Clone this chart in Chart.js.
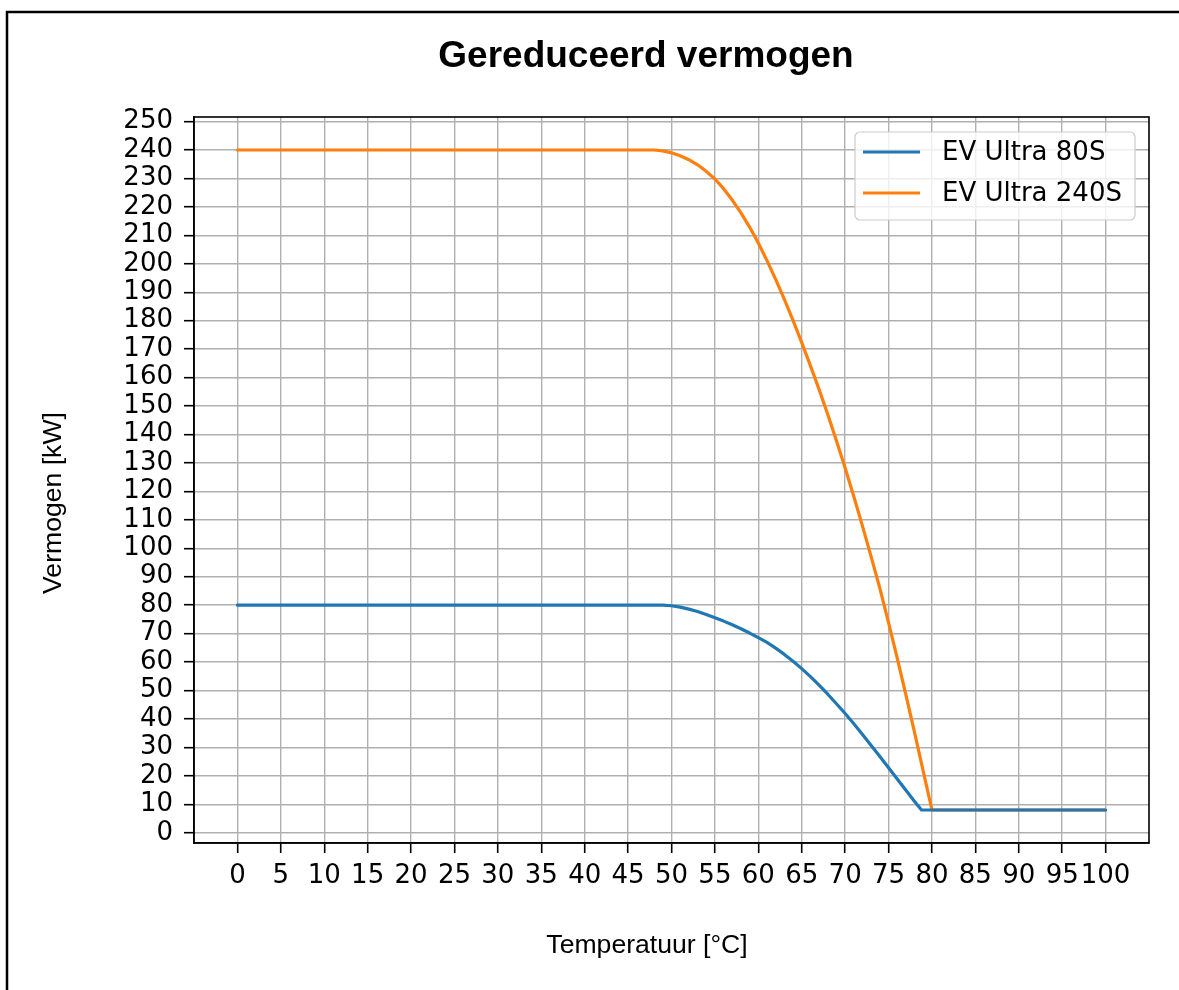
<!DOCTYPE html>
<html lang="nl">
<head>
    <meta charset="UTF-8">
    <title>Gereduceerd vermogen</title>
    <script src="https://cdn.jsdelivr.net/npm/chart.js"></script>
    <style>
        body { margin: 0; background: #fff; }
        #wrap { width: 1179px; height: 990px; position: relative; }
    </style>
</head>
<body>
    <div id="wrap"><canvas id="deratingChart"></canvas></div>

    <script>
        // Temperature (°C) / power (kW)
        const temp80 = [0, 49, 50, 51, 52, 53, 54, 55, 56, 57, 58, 59, 60, 61, 62, 63, 64, 65, 66, 67, 68, 69, 70,
                        71, 72, 73, 74, 75, 76, 77, 78, 78.8, 100];
        const power80 = [80, 80, 79.8, 79.3, 78.6, 77.75, 76.75, 75.6, 74.4, 73.1, 71.7, 70.2, 68.6, 66.9, 64.9, 62.7,
                         60.3, 57.7, 54.9, 51.9, 48.7, 45.35, 41.9, 38.3, 34.55, 30.7, 26.8, 22.85, 18.9, 14.95, 11.0, 8, 8];

        const temp240 = [0, 47, 48, 49, 50, 51, 52, 53, 54, 55, 56, 57, 58, 59, 60, 61, 62, 63, 64, 65, 66, 67, 68, 69, 70,
                         71, 72, 73, 74, 75, 76, 77, 78, 79, 80, 100];
        const power240 = [240, 240, 240, 239.7, 239.0, 238.0, 236.6, 234.8, 232.5, 229.8, 226.4, 222.4, 217.9, 212.9, 207.3,
                          201.1, 194.5, 187.5, 180.1, 172.3, 164.2, 155.8, 147.0, 137.8, 128.2,
                          118.2, 107.8, 97.0, 85.9, 73.9, 61.4, 48.5, 35.2, 21.6, 8, 8];

        const seriesLabels = ["EV Ultra 80S", "EV Ultra 240S"];
        const seriesColors = ["#1f77b4", "#ff7f0e"];

        const xTicks = [0, 5, 10, 15, 20, 25, 30, 35, 40, 45, 50, 55, 60, 65, 70, 75, 80, 85, 90, 95, 100];
        const yTicks = [0, 10, 20, 30, 40, 50, 60, 70, 80, 90, 100, 110, 120, 130, 140, 150, 160, 170, 180, 190,
                        200, 210, 220, 230, 240, 250];

        const tickFont = { family: "DejaVu Sans", size: 26 };
        const labelFamily = "'Liberation Sans', Arial, sans-serif";
        const gridStyle = { color: "#b0b0b0", lineWidth: 1.4, tickColor: "#000", tickWidth: 1.6, tickLength: 10 };

        const toPoints = (xs, ys) => xs.map((x, i) => ({ x: x, y: ys[i] }));

        // frame, top/right axis spines, titles and the legend box
        const decorations = {
            id: "decorations",
            afterDatasetsDraw(chart) {
                const ctx = chart.ctx;
                const ca = chart.chartArea;
                ctx.save();
                // legend
                const bx = ca.right - 294, by = ca.top + 15, bw = 280, bh = 88;
                ctx.beginPath();
                ctx.roundRect(bx, by, bw, bh, 5);
                ctx.fillStyle = "rgba(255,255,255,0.8)";
                ctx.fill();
                ctx.strokeStyle = "#cccccc";
                ctx.lineWidth = 1.2;
                ctx.stroke();
                ctx.font = "26px 'DejaVu Sans'";
                ctx.textBaseline = "middle";
                ctx.textAlign = "left";
                chart.data.datasets.forEach((ds, i) => {
                    const ry = by + 20 + i * 41;
                    ctx.beginPath();
                    ctx.moveTo(bx + 8, ry);
                    ctx.lineTo(bx + 65, ry);
                    ctx.strokeStyle = ds.borderColor;
                    ctx.lineWidth = 3.2;
                    ctx.stroke();
                    ctx.fillStyle = "#000";
                    ctx.fillText(ds.label, bx + 87, ry + 1);
                });
                ctx.restore();
            },
            afterDraw(chart) {
                const ctx = chart.ctx;
                const ca = chart.chartArea;
                ctx.save();
                ctx.strokeStyle = "#000";
                ctx.lineWidth = 1.6;
                ctx.strokeRect(ca.left, ca.top, ca.right - ca.left, ca.bottom - ca.top);

                // outer figure frame
                ctx.lineWidth = 2.5;
                ctx.beginPath();
                ctx.moveTo(7, 990);
                ctx.lineTo(7, 12);
                ctx.lineTo(1179, 12);
                ctx.stroke();

                ctx.fillStyle = "#000";
                ctx.textAlign = "center";
                ctx.textBaseline = "alphabetic";
                ctx.font = "bold 37px " + labelFamily;
                ctx.fillText("Gereduceerd vermogen", 646, 67);
                ctx.font = "26.6px " + labelFamily;
                ctx.fillText("Temperatuur [°C]", 647, 953);
                ctx.translate(54, 503);
                ctx.rotate(-Math.PI / 2);
                ctx.textBaseline = "middle";
                ctx.fillText("Vermogen [kW]", 0, 0);
                ctx.restore();
            }
        };

        new Chart(document.getElementById("deratingChart"), {
            type: "line",
            data: {
                datasets: [
                    { label: seriesLabels[0], data: toPoints(temp80, power80), borderColor: seriesColors[0] },
                    { label: seriesLabels[1], data: toPoints(temp240, power240), borderColor: seriesColors[1] }
                ]
            },
            options: {
                responsive: true,
                maintainAspectRatio: false,
                animation: false,
                layout: { padding: { left: 0, top: 117, right: 30, bottom: 0 } },
                elements: {
                    line: { borderWidth: 3.2, tension: 0, fill: false, borderJoinStyle: "round", borderCapStyle: "round" },
                    point: { radius: 0, hoverRadius: 0 }
                },
                plugins: {
                    legend: { display: false },
                    title: { display: false },
                    tooltip: { enabled: false }
                },
                scales: {
                    x: {
                        type: "linear",
                        min: -5,
                        max: 105,
                        afterBuildTicks: (scale) => { scale.ticks = xTicks.map(v => ({ value: v })); },
                        afterFit: (scale) => { scale.height = 147; },
                        ticks: { font: tickFont, color: "#000", padding: 8, autoSkip: false, maxRotation: 0 },
                        grid: gridStyle,
                        border: { display: true, color: "#000", width: 1.6 }
                    },
                    y: {
                        type: "linear",
                        min: -3.6,
                        max: 251.6,
                        afterBuildTicks: (scale) => { scale.ticks = yTicks.map(v => ({ value: v })); },
                        afterFit: (scale) => { scale.width = 194; },
                        ticks: { font: tickFont, color: "#000", padding: 11, autoSkip: false },
                        grid: gridStyle,
                        border: { display: true, color: "#000", width: 1.6 }
                    }
                }
            },
            plugins: [decorations]
        });
    </script>
</body>
</html>
